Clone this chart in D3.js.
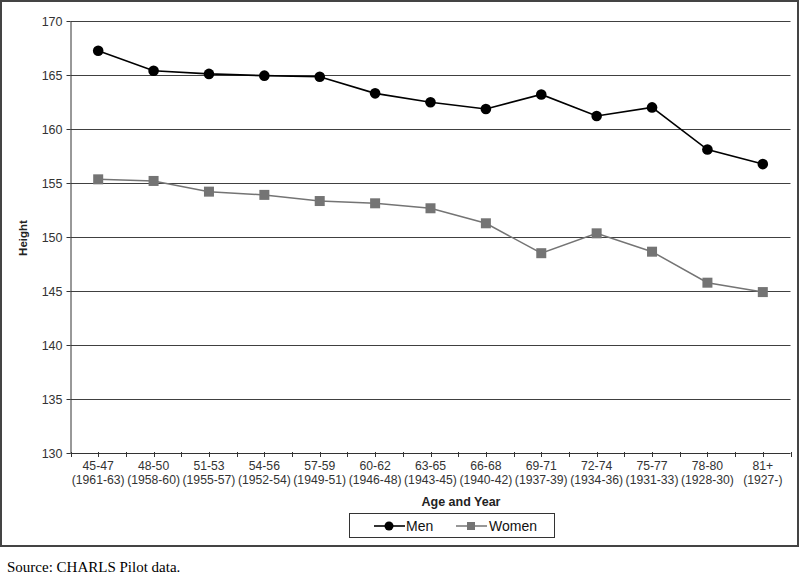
<!DOCTYPE html>
<html><head><meta charset="utf-8">
<script src="https://cdn.jsdelivr.net/npm/d3@7"></script>
<style>body{margin:0;background:#fff}svg{display:block}</style>
</head><body>
<script>
const ageGroups = ["45-47","48-50","51-53","54-56","57-59","60-62","63-65","66-68","69-71","72-74","75-77","78-80","81+"];
const birthYears = ["(1961-63)","(1958-60)","(1955-57)","(1952-54)","(1949-51)","(1946-48)","(1943-45)","(1940-42)","(1937-39)","(1934-36)","(1931-33)","(1928-30)","(1927-)"];
const men = [167.25,165.4,165.1,164.94,164.84,163.3,162.47,161.85,163.2,161.2,162.0,158.1,156.75];
const women = [155.34,155.19,154.2,153.9,153.33,153.12,152.66,151.27,148.5,150.34,148.64,145.77,144.9];
const yTicks = [130,135,140,145,150,155,160,165,170];

const W = 800, H = 575;
const svg = d3.select("body").append("svg").attr("width", W).attr("height", H);
const font = "Arial, 'Liberation Sans', sans-serif";

// outer frame
svg.append("rect").attr("x",1).attr("y",1).attr("width",797).attr("height",545)
  .attr("fill","none").attr("stroke","#444").attr("stroke-width",2);

const pLeft = 70.5, pRight = 790.5, pTop = 21, pBottom = 453;
const x = d3.scaleBand().domain(ageGroups).range([pLeft, pRight]).paddingInner(0).paddingOuter(0);
const y = d3.scaleLinear().domain([130,170]).range([pBottom, pTop]);

// gridlines
svg.append("g").selectAll("line").data(yTicks.filter(t=>t>130)).join("line")
  .attr("x1", pLeft).attr("x2", pRight)
  .attr("y1", d=>Math.round(y(d))+0.5).attr("y2", d=>Math.round(y(d))+0.5)
  .attr("stroke","#404040").attr("stroke-width",1);

// y axis
const yAxis = svg.append("g").attr("transform",`translate(${pLeft},0)`)
  .call(d3.axisLeft(y).tickValues(yTicks).tickSize(4).tickPadding(4).tickSizeOuter(0));
yAxis.select(".domain").attr("stroke","#333");
yAxis.selectAll(".tick line").attr("stroke","#333");
yAxis.selectAll(".tick").attr("transform", d=>`translate(0,${Math.round(y(d))+0.5})`);
yAxis.selectAll("text").attr("font-family",font).attr("font-size",12.5).attr("fill","#333");

// x axis line
svg.append("line").attr("x1",pLeft).attr("x2",pRight).attr("y1",pBottom+0.5).attr("y2",pBottom+0.5)
  .attr("stroke","#333");
// ticks at boundaries and centers
const tickPos = [];
ageGroups.forEach(g=>{ tickPos.push(x(g)); tickPos.push(x(g)+x.bandwidth()/2); });
tickPos.push(pRight);
svg.append("g").selectAll("line").data(tickPos).join("line")
  .attr("x1",d=>Math.round(d)+0.5).attr("x2",d=>Math.round(d)+0.5)
  .attr("y1",pBottom-1).attr("y2",pBottom+4).attr("stroke","#333");

// x labels
const xl = svg.append("g").selectAll("text").data(ageGroups).join("text")
  .attr("font-family",font).attr("font-size",12.2).attr("fill","#333").attr("text-anchor","middle");
xl.append("tspan").attr("x",d=>x(d)+x.bandwidth()/2).attr("y",470).text(d=>d);
xl.append("tspan").attr("x",d=>x(d)+x.bandwidth()/2).attr("y",483.5).text((d,i)=>birthYears[i]);

// axis titles
svg.append("text").attr("x",461).attr("y",506).attr("text-anchor","middle")
  .attr("font-family",font).attr("font-size",12.5).attr("font-weight","bold").attr("fill","#222").text("Age and Year");
svg.append("text").attr("transform","translate(27,238) rotate(-90)").attr("text-anchor","middle")
  .attr("font-family",font).attr("font-size",11.5).attr("font-weight","bold").attr("fill","#222").text("Height");

const cx = (d,i)=>x(ageGroups[i])+x.bandwidth()/2;
const line = d3.line().x(cx).y(d=>y(d));

// women
const wCol = "#747474";
svg.append("path").datum(women).attr("d",line).attr("fill","none").attr("stroke",wCol).attr("stroke-width",1.5);
svg.append("g").selectAll("rect").data(women).join("rect")
  .attr("x",(d,i)=>cx(d,i)-5).attr("y",d=>y(d)-5).attr("width",10).attr("height",10).attr("fill",wCol);

// men
svg.append("path").datum(men).attr("d",line).attr("fill","none").attr("stroke","#000").attr("stroke-width",1.6);
svg.append("g").selectAll("circle").data(men).join("circle")
  .attr("cx",cx).attr("cy",d=>y(d)).attr("r",5.3).attr("fill","#000");

// legend
const lg = svg.append("g");
lg.append("rect").attr("x",349.5).attr("y",513.5).attr("width",205).attr("height",24)
  .attr("fill","#fff").attr("stroke","#333");
lg.append("line").attr("x1",374).attr("x2",405).attr("y1",526).attr("y2",526).attr("stroke","#000").attr("stroke-width",1.6);
lg.append("circle").attr("cx",389).attr("cy",526).attr("r",4.5).attr("fill","#000");
lg.append("text").attr("x",406).attr("y",531).attr("font-family",font).attr("font-size",14).attr("fill","#111").text("Men");
lg.append("line").attr("x1",456).attr("x2",487).attr("y1",526).attr("y2",526).attr("stroke",wCol).attr("stroke-width",1.5);
lg.append("rect").attr("x",467).attr("y",522).attr("width",8).attr("height",8).attr("fill",wCol);
lg.append("text").attr("x",489).attr("y",531).attr("font-family",font).attr("font-size",14).attr("fill","#111").text("Women");

// source
svg.append("text").attr("x",7).attr("y",572).attr("font-family","'Liberation Serif','Times New Roman',serif")
  .attr("font-size",15).attr("fill","#000").text("Source: CHARLS Pilot data.");
</script>
</body></html>
